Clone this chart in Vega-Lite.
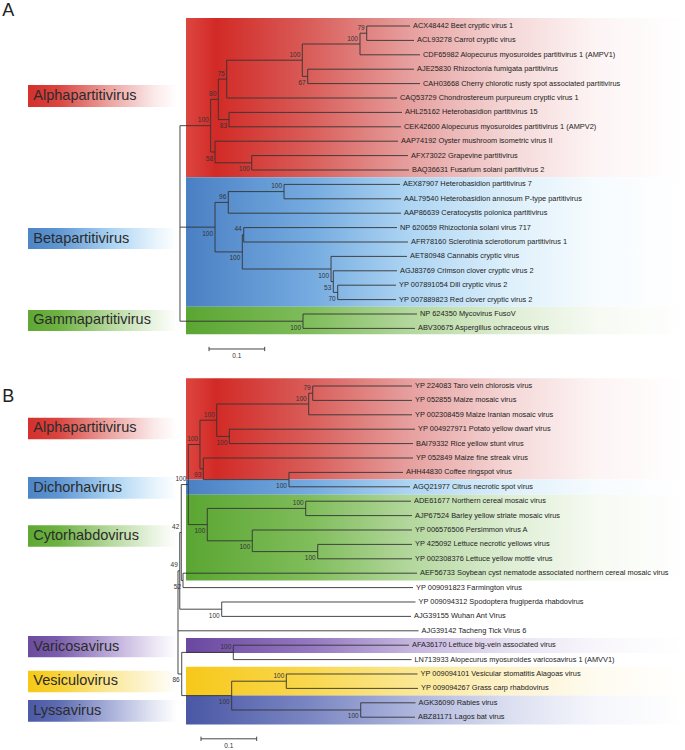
{
  "$schema": "https://vega.github.io/schema/vega-lite/v6.json",
  "width": 685,
  "height": 750,
  "autosize": "none",
  "padding": 0,
  "background": "#ffffff",
  "config": {"view": {"stroke": null}, "axis": {"disable": true}, "text": {"font": "Liberation Sans"}},
  "datasets": {
    "clades": [
      {"g": "red", "r1": -0.55, "r2": 10.5},
      {"g": "blue", "r1": 10.5, "r2": 19.5},
      {"g": "green", "r1": 19.5, "r2": 21.4},
      {"g": "red", "r1": 24.47, "r2": 31.5},
      {"g": "blue", "r1": 31.5, "r2": 32.55},
      {"g": "green", "r1": 32.55, "r2": 38.5},
      {"g": "purple", "r1": 42.5, "r2": 43.55},
      {"g": "yellow", "r1": 44.5, "r2": 46.5},
      {"g": "lyssa", "r1": 46.5, "r2": 48.5}
    ],
    "groups": [
      {"g": "red", "name": "Alphapartitivirus", "r1": 4.1, "r2": 5.63, "rc": 4.865},
      {"g": "blue", "name": "Betapartitivirus", "r1": 14.03, "r2": 15.49, "rc": 14.76},
      {"g": "green", "name": "Gammapartitivirus", "r1": 19.72, "r2": 21.18, "rc": 20.45},
      {"g": "red", "name": "Alphapartitivirus", "r1": 27.2, "r2": 28.7, "rc": 27.95},
      {"g": "blue", "name": "Dichorhavirus", "r1": 31.32, "r2": 32.83, "rc": 32.075},
      {"g": "green", "name": "Cytorhabdovirus", "r1": 34.67, "r2": 36.16, "rc": 35.415},
      {"g": "purple", "name": "Varicosavirus", "r1": 42.36, "r2": 43.84, "rc": 43.1},
      {"g": "yellow", "name": "Vesiculovirus", "r1": 44.77, "r2": 46.27, "rc": 45.52},
      {"g": "lyssa", "name": "Lyssavirus", "r1": 46.81, "r2": 48.31, "rc": 47.56}
    ],
    "tree": [
      {"d": 0.0032, "lo": 6.922, "hi": 20.5},
      {"pd": 0.0032, "d": 0.0583, "r": 6.922, "lo": 5.094, "hi": 8.75, "bs": "100", "pos": "a"},
      {"pd": 0.0032, "d": 0.0661, "r": 13.969, "lo": 12.25, "hi": 15.688, "bs": "100", "pos": "b"},
      {"pd": 0.0032, "d": 0.2241, "r": 20.5, "lo": 20, "hi": 21, "bs": "100", "pos": "b"},
      {"pd": 0.0583, "d": 0.072, "r": 5.094, "lo": 3.688, "hi": 6.5, "bs": "80", "pos": "a"},
      {"pd": 0.0583, "d": 0.0661, "r": 8.75, "lo": 8, "hi": 9.5, "bs": "58", "pos": "b"},
      {"pd": 0.072, "d": 0.0871, "r": 3.688, "lo": 2.375, "hi": 5, "bs": "75", "pos": "a"},
      {"pd": 0.072, "d": 0.0912, "r": 6.5, "lo": 6, "hi": 7, "bs": "83", "pos": "b"},
      {"pd": 0.0871, "d": 0.2228, "r": 2.375, "lo": 1.25, "hi": 3.5, "bs": "100", "pos": "a"},
      {"pd": 0.2228, "d": 0.3264, "r": 1.25, "lo": 0.5, "hi": 2, "bs": "100", "pos": "a"},
      {"pd": 0.2228, "d": 0.2325, "r": 3.5, "lo": 3, "hi": 4, "bs": "67", "pos": "b"},
      {"pd": 0.3264, "d": 0.3385, "r": 0.5, "lo": 0, "hi": 1, "bs": "79", "pos": "a"},
      {"pd": 0.0661, "d": 0.132, "r": 9.5, "lo": 9, "hi": 10, "bs": "100", "pos": "b"},
      {"pd": 0.0661, "d": 0.0899, "r": 12.25, "lo": 11.5, "hi": 13, "bs": "96", "pos": "a"},
      {"pd": 0.0661, "d": 0.1151, "r": 15.688, "lo": 14.5, "hi": 16.875, "bs": "100", "pos": "b"},
      {"pd": 0.0899, "d": 0.19, "r": 11.5, "lo": 11, "hi": 12, "bs": "100", "pos": "a"},
      {"pd": 0.1151, "d": 0.1176, "r": 14.5, "lo": 14, "hi": 15, "bs": "44", "pos": "a"},
      {"pd": 0.1151, "d": 0.2744, "r": 16.875, "lo": 16, "hi": 17.75, "bs": "100", "pos": "b"},
      {"pd": 0.2744, "d": 0.2785, "r": 17.75, "lo": 17, "hi": 18.5, "bs": "53", "pos": "b"},
      {"pd": 0.2785, "d": 0.2864, "r": 18.5, "lo": 18, "hi": 19, "bs": "70", "pos": "b"},
      {"pd": 0.3385, "d": 0.4162, "r": 0, "name": "ACX48442 Beet cryptic virus 1"},
      {"pd": 0.3385, "d": 0.4234, "r": 1, "name": "ACL93278 Carrot cryptic virus"},
      {"pd": 0.3264, "d": 0.4342, "r": 2, "name": "CDF65982 Alopecurus myosuroides partitivirus 1 (AMPV1)"},
      {"pd": 0.2325, "d": 0.4234, "r": 3, "name": "AJE25830 Rhizoctonia fumigata partitivirus"},
      {"pd": 0.2325, "d": 0.4342, "r": 4, "name": "CAH03668 Cherry chlorotic rusty spot associated partitivirus"},
      {"pd": 0.0871, "d": 0.3929, "r": 5, "name": "CAQ53729 Chondrostereum purpureum cryptic virus 1"},
      {"pd": 0.0912, "d": 0.4018, "r": 6, "name": "AHL25162 Heterobasidion partitivirus 15"},
      {"pd": 0.0912, "d": 0.4, "r": 7, "name": "CEK42600 Alopecurus myosuroides partitivirus 1 (AMPV2)"},
      {"pd": 0.0661, "d": 0.3947, "r": 8, "name": "AAP74192 Oyster mushroom isometric virus II"},
      {"pd": 0.132, "d": 0.4126, "r": 9, "name": "AFX73022 Grapevine partitivirus"},
      {"pd": 0.132, "d": 0.4144, "r": 10, "name": "BAQ36631 Fusarium solani partitivirus 2"},
      {"pd": 0.19, "d": 0.3982, "r": 11, "name": "AEX87907 Heterobasidion partitivirus 7"},
      {"pd": 0.19, "d": 0.4, "r": 12, "name": "AAL79540 Heterobasidion annosum P-type partitivirus"},
      {"pd": 0.0899, "d": 0.4, "r": 13, "name": "AAP86639 Ceratocystis polonica partitivirus"},
      {"pd": 0.1176, "d": 0.3929, "r": 14, "name": "NP 620659 Rhizoctonia solani virus 717"},
      {"pd": 0.1176, "d": 0.4126, "r": 15, "name": "AFR78160 Sclerotinia sclerotiorum partitivirus 1"},
      {"pd": 0.2744, "d": 0.4108, "r": 16, "name": "AET80948 Cannabis cryptic virus"},
      {"pd": 0.2785, "d": 0.3929, "r": 17, "name": "AGJ83769 Crimson clover cryptic virus 2"},
      {"pd": 0.2864, "d": 0.3911, "r": 18, "name": "YP 007891054 Dill cryptic virus 2"},
      {"pd": 0.2864, "d": 0.3911, "r": 19, "name": "YP 007889823 Red clover cryptic virus 2"},
      {"pd": 0.2241, "d": 0.4288, "r": 20, "name": "NP 624350 Mycovirus FusoV"},
      {"pd": 0.2241, "d": 0.4252, "r": 21, "name": "ABV30675 Aspergillus ochraceous virus"},
      {"d": -0.0004, "lo": 37.836, "hi": 45},
      {"pd": -0.0004, "d": 0.0028, "r": 37.836, "lo": 35.172, "hi": 40.5, "bs": "49", "pos": "a"},
      {"pd": -0.0004, "d": 0.0063, "r": 45, "lo": 43.5, "hi": 46.5, "bs": "86", "pos": "b"},
      {"pd": 0.0028, "d": 0.0055, "r": 35.172, "lo": 31.844, "hi": 38.5, "bs": "42", "pos": "a"},
      {"pd": 0.0028, "d": 0.0781, "r": 40.5, "lo": 40, "hi": 41, "bs": "100", "pos": "b"},
      {"pd": 0.0055, "d": 0.0181, "r": 31.844, "lo": 29.063, "hi": 34.625, "bs": "100", "pos": "a"},
      {"pd": 0.0055, "d": 0.0086, "r": 38.5, "lo": 38, "hi": 39, "bs": "52", "pos": "b"},
      {"pd": 0.0181, "d": 0.0391, "r": 29.063, "lo": 27.375, "hi": 30.75, "bs": "100", "pos": "a"},
      {"pd": 0.0181, "d": 0.0522, "r": 34.625, "lo": 33.5, "hi": 35.75, "bs": "100", "pos": "b"},
      {"pd": 0.0391, "d": 0.0691, "r": 27.375, "lo": 26.25, "hi": 28.5, "bs": "100", "pos": "a"},
      {"pd": 0.0391, "d": 0.0451, "r": 30.75, "lo": 30, "hi": 31.5, "bs": "93", "pos": "b"},
      {"pd": 0.0691, "d": 0.2343, "r": 26.25, "lo": 25.5, "hi": 27, "bs": "100", "pos": "a"},
      {"pd": 0.0691, "d": 0.0918, "r": 28.5, "lo": 28, "hi": 29, "bs": "100", "pos": "b"},
      {"pd": 0.2343, "d": 0.2415, "r": 25.5, "lo": 25, "hi": 26, "bs": "79", "pos": "a"},
      {"pd": 0.0451, "d": 0.1989, "r": 31.5, "lo": 31, "hi": 32, "bs": "100", "pos": "b"},
      {"pd": 0.0522, "d": 0.2289, "r": 33.5, "lo": 33, "hi": 34, "bs": "100", "pos": "a"},
      {"pd": 0.0522, "d": 0.133, "r": 35.75, "lo": 35, "hi": 36.5, "bs": "100", "pos": "b"},
      {"pd": 0.133, "d": 0.2505, "r": 36.5, "lo": 36, "hi": 37, "bs": "100", "pos": "b"},
      {"pd": 0.0063, "d": 0.0989, "r": 43.5, "lo": 43, "hi": 44, "bs": "100", "pos": "a"},
      {"pd": 0.0063, "d": 0.096, "r": 46.5, "lo": 45.5, "hi": 47.5, "bs": "100", "pos": "b"},
      {"pd": 0.096, "d": 0.1941, "r": 45.5, "lo": 45, "hi": 46, "bs": "100", "pos": "a"},
      {"pd": 0.096, "d": 0.3277, "r": 47.5, "lo": 47, "hi": 48, "bs": "100", "pos": "b"},
      {"pd": 0.2415, "d": 0.4198, "r": 25, "name": "YP 224083 Taro vein chlorosis virus"},
      {"pd": 0.2415, "d": 0.4198, "r": 26, "name": "YP 052855 Maize mosaic virus"},
      {"pd": 0.2343, "d": 0.4198, "r": 27, "name": "YP 002308459 Maize Iranian mosaic virus"},
      {"pd": 0.0918, "d": 0.4252, "r": 28, "name": "YP 004927971 Potato yellow dwarf virus"},
      {"pd": 0.0918, "d": 0.4216, "r": 29, "name": "BAI79332 Rice yellow stunt virus"},
      {"pd": 0.0451, "d": 0.4216, "r": 30, "name": "YP 052849 Maize fine streak virus"},
      {"pd": 0.1989, "d": 0.4036, "r": 31, "name": "AHH44830 Coffee ringspot virus"},
      {"pd": 0.1989, "d": 0.4162, "r": 32, "name": "AGQ21977 Citrus necrotic spot virus"},
      {"pd": 0.2289, "d": 0.418, "r": 33, "name": "ADE61677 Northern cereal mosaic virus"},
      {"pd": 0.2289, "d": 0.4198, "r": 34, "name": "AJP67524 Barley yellow striate mosaic virus"},
      {"pd": 0.133, "d": 0.4198, "r": 35, "name": "YP 006576506 Persimmon virus A"},
      {"pd": 0.2505, "d": 0.4198, "r": 36, "name": "YP 425092 Lettuce necrotic yellows virus"},
      {"pd": 0.2505, "d": 0.4198, "r": 37, "name": "YP 002308376 Lettuce yellow mottle virus"},
      {"pd": 0.0086, "d": 0.4288, "r": 38, "name": "AEF56733 Soybean cyst nematode associated northern cereal mosaic virus"},
      {"pd": 0.0086, "d": 0.4216, "r": 39, "name": "YP 009091823 Farmington virus"},
      {"pd": 0.0781, "d": 0.4261, "r": 40, "name": "YP 009094312 Spodoptera frugiperda rhabdovirus"},
      {"pd": 0.0781, "d": 0.418, "r": 41, "name": "AJG39155 Wuhan Ant Virus"},
      {"pd": -0.0004, "d": 0.4315, "r": 42, "name": "AJG39142 Tacheng Tick Virus 6"},
      {"pd": 0.0989, "d": 0.4144, "r": 43, "name": "AFA36170 Lettuce big-vein associated virus"},
      {"pd": 0.0989, "d": 0.4189, "r": 44, "name": "LN713933 Alopecurus myosuroides varicosavirus 1 (AMVV1)"},
      {"pd": 0.1941, "d": 0.4297, "r": 45, "name": "YP 009094101 Vesicular stomatitis Alagoas virus"},
      {"pd": 0.1941, "d": 0.4306, "r": 46, "name": "YP 009094267 Grass carp rhabdovirus"},
      {"pd": 0.3277, "d": 0.4261, "r": 47, "name": "AGK36090 Rabies virus"},
      {"pd": 0.3277, "d": 0.4252, "r": 48, "name": "ABZ81171 Lagos bat virus"}
    ],
    "scalebars": [
      {"d0": 0.0553, "d1": 0.1553, "dm": 0.1053, "r": 22.43, "rt": 22.28, "rb": 22.58, "t": "0.1"},
      {"d0": 0.0409, "d1": 0.1409, "dm": 0.0909, "r": 49.5, "rt": 49.35, "rb": 49.65, "t": "0.1"}
    ],
    "letters": [
      {"t": "A", "r": -1.04},
      {"t": "B", "r": 25.76}
    ]
  },
  "layer": [
    {
      "data": {"name": "clades"},
      "transform": [{"filter": "datum.g === 'red'"}],
      "mark": {"type": "rect", "fill": {"gradient": "linear", "x1": 0, "y1": 0, "x2": 1, "y2": 0, "stops": [{"offset": 0, "color": "#dd4640"}, {"offset": 0.06, "color": "#d22a26"}, {"offset": 0.25, "color": "#d95e5a"}, {"offset": 0.45, "color": "#e6a09f"}, {"offset": 0.65, "color": "#f5d8d8"}, {"offset": 0.82, "color": "#fdf4f4"}, {"offset": 1, "color": "#ffffff"}]}},
      "encoding": {
        "x": {"datum": 0.014, "type": "quantitative", "scale": {"domain": [-0.32, 0.91], "range": [0, 685], "nice": false, "zero": false}},
        "x2": {"datum": 0.91},
        "y": {"field": "r1", "type": "quantitative", "scale": {"domain": [-1.8056, 50.2778], "range": [0, 750], "nice": false, "zero": false}},
        "y2": {"field": "r2"}
      }
    },
    {
      "data": {"name": "clades"},
      "transform": [{"filter": "datum.g === 'blue'"}],
      "mark": {"type": "rect", "fill": {"gradient": "linear", "x1": 0, "y1": 0, "x2": 1, "y2": 0, "stops": [{"offset": 0, "color": "#4a80c3"}, {"offset": 0.25, "color": "#75abe0"}, {"offset": 0.45, "color": "#aed5f3"}, {"offset": 0.65, "color": "#def0fb"}, {"offset": 0.82, "color": "#f6fbfe"}, {"offset": 1, "color": "#ffffff"}]}},
      "encoding": {"x": {"datum": 0.014, "type": "quantitative"}, "x2": {"datum": 0.91}, "y": {"field": "r1", "type": "quantitative"}, "y2": {"field": "r2"}}
    },
    {
      "data": {"name": "clades"},
      "transform": [{"filter": "datum.g === 'green'"}],
      "mark": {"type": "rect", "fill": {"gradient": "linear", "x1": 0, "y1": 0, "x2": 1, "y2": 0, "stops": [{"offset": 0, "color": "#5aa632"}, {"offset": 0.25, "color": "#80bd5b"}, {"offset": 0.45, "color": "#b3d79d"}, {"offset": 0.65, "color": "#dfeed5"}, {"offset": 0.82, "color": "#f6faf2"}, {"offset": 1, "color": "#ffffff"}]}},
      "encoding": {"x": {"datum": 0.014, "type": "quantitative"}, "x2": {"datum": 0.91}, "y": {"field": "r1", "type": "quantitative"}, "y2": {"field": "r2"}}
    },
    {
      "data": {"name": "clades"},
      "transform": [{"filter": "datum.g === 'purple'"}],
      "mark": {"type": "rect", "fill": {"gradient": "linear", "x1": 0, "y1": 0, "x2": 1, "y2": 0, "stops": [{"offset": 0, "color": "#6a47a0"}, {"offset": 0.25, "color": "#9478c0"}, {"offset": 0.45, "color": "#c4b5de"}, {"offset": 0.65, "color": "#e9e2f3"}, {"offset": 0.82, "color": "#f8f6fb"}, {"offset": 1, "color": "#ffffff"}]}},
      "encoding": {"x": {"datum": 0.014, "type": "quantitative"}, "x2": {"datum": 0.91}, "y": {"field": "r1", "type": "quantitative"}, "y2": {"field": "r2"}}
    },
    {
      "data": {"name": "clades"},
      "transform": [{"filter": "datum.g === 'yellow'"}],
      "mark": {"type": "rect", "fill": {"gradient": "linear", "x1": 0, "y1": 0, "x2": 1, "y2": 0, "stops": [{"offset": 0, "color": "#f7c81a"}, {"offset": 0.25, "color": "#f9d84f"}, {"offset": 0.45, "color": "#fbe792"}, {"offset": 0.65, "color": "#fdf3cf"}, {"offset": 0.82, "color": "#fefbef"}, {"offset": 1, "color": "#ffffff"}]}},
      "encoding": {"x": {"datum": 0.014, "type": "quantitative"}, "x2": {"datum": 0.91}, "y": {"field": "r1", "type": "quantitative"}, "y2": {"field": "r2"}}
    },
    {
      "data": {"name": "clades"},
      "transform": [{"filter": "datum.g === 'lyssa'"}],
      "mark": {"type": "rect", "fill": {"gradient": "linear", "x1": 0, "y1": 0, "x2": 1, "y2": 0, "stops": [{"offset": 0, "color": "#4957a5"}, {"offset": 0.25, "color": "#7b87c3"}, {"offset": 0.45, "color": "#adb5dc"}, {"offset": 0.65, "color": "#dcdff0"}, {"offset": 0.82, "color": "#f5f6fb"}, {"offset": 1, "color": "#ffffff"}]}},
      "encoding": {"x": {"datum": 0.014, "type": "quantitative"}, "x2": {"datum": 0.91}, "y": {"field": "r1", "type": "quantitative"}, "y2": {"field": "r2"}}
    },
    {
      "data": {"name": "groups"},
      "transform": [{"filter": "datum.g === 'red'"}],
      "mark": {"type": "rect", "fill": {"gradient": "linear", "x1": 0, "y1": 0, "x2": 1, "y2": 0, "stops": [{"offset": 0, "color": "#d3302c"}, {"offset": 0.2, "color": "#d9443f"}, {"offset": 0.55, "color": "#eba5a2"}, {"offset": 0.85, "color": "#fbeaea"}, {"offset": 1, "color": "#ffffff"}]}},
      "encoding": {"x": {"datum": -0.2697, "type": "quantitative"}, "x2": {"datum": -0.0022}, "y": {"field": "r1", "type": "quantitative"}, "y2": {"field": "r2"}}
    },
    {
      "data": {"name": "groups"},
      "transform": [{"filter": "datum.g === 'blue'"}],
      "mark": {"type": "rect", "fill": {"gradient": "linear", "x1": 0, "y1": 0, "x2": 1, "y2": 0, "stops": [{"offset": 0, "color": "#4c84c6"}, {"offset": 0.2, "color": "#5e95d2"}, {"offset": 0.55, "color": "#a9d2f2"}, {"offset": 0.85, "color": "#e6f3fc"}, {"offset": 1, "color": "#ffffff"}]}},
      "encoding": {"x": {"datum": -0.2697, "type": "quantitative"}, "x2": {"datum": -0.0022}, "y": {"field": "r1", "type": "quantitative"}, "y2": {"field": "r2"}}
    },
    {
      "data": {"name": "groups"},
      "transform": [{"filter": "datum.g === 'green'"}],
      "mark": {"type": "rect", "fill": {"gradient": "linear", "x1": 0, "y1": 0, "x2": 1, "y2": 0, "stops": [{"offset": 0, "color": "#5ea834"}, {"offset": 0.2, "color": "#6db241"}, {"offset": 0.55, "color": "#b5d89c"}, {"offset": 0.85, "color": "#eaf4e3"}, {"offset": 1, "color": "#ffffff"}]}},
      "encoding": {"x": {"datum": -0.2697, "type": "quantitative"}, "x2": {"datum": -0.0022}, "y": {"field": "r1", "type": "quantitative"}, "y2": {"field": "r2"}}
    },
    {
      "data": {"name": "groups"},
      "transform": [{"filter": "datum.g === 'purple'"}],
      "mark": {"type": "rect", "fill": {"gradient": "linear", "x1": 0, "y1": 0, "x2": 1, "y2": 0, "stops": [{"offset": 0, "color": "#6a4b9e"}, {"offset": 0.2, "color": "#7a5dab"}, {"offset": 0.55, "color": "#bbaad8"}, {"offset": 0.85, "color": "#ece6f4"}, {"offset": 1, "color": "#ffffff"}]}},
      "encoding": {"x": {"datum": -0.2697, "type": "quantitative"}, "x2": {"datum": -0.0022}, "y": {"field": "r1", "type": "quantitative"}, "y2": {"field": "r2"}}
    },
    {
      "data": {"name": "groups"},
      "transform": [{"filter": "datum.g === 'yellow'"}],
      "mark": {"type": "rect", "fill": {"gradient": "linear", "x1": 0, "y1": 0, "x2": 1, "y2": 0, "stops": [{"offset": 0, "color": "#f6c915"}, {"offset": 0.2, "color": "#f8d235"}, {"offset": 0.55, "color": "#fbe89a"}, {"offset": 0.85, "color": "#fdf7dd"}, {"offset": 1, "color": "#ffffff"}]}},
      "encoding": {"x": {"datum": -0.2697, "type": "quantitative"}, "x2": {"datum": -0.0022}, "y": {"field": "r1", "type": "quantitative"}, "y2": {"field": "r2"}}
    },
    {
      "data": {"name": "groups"},
      "transform": [{"filter": "datum.g === 'lyssa'"}],
      "mark": {"type": "rect", "fill": {"gradient": "linear", "x1": 0, "y1": 0, "x2": 1, "y2": 0, "stops": [{"offset": 0, "color": "#4b59a6"}, {"offset": 0.2, "color": "#5d6bb1"}, {"offset": 0.55, "color": "#a8b0d9"}, {"offset": 0.85, "color": "#e5e8f4"}, {"offset": 1, "color": "#ffffff"}]}},
      "encoding": {"x": {"datum": -0.2697, "type": "quantitative"}, "x2": {"datum": -0.0022}, "y": {"field": "r1", "type": "quantitative"}, "y2": {"field": "r2"}}
    },
    {
      "data": {"name": "groups"},
      "mark": {"type": "text", "align": "left", "baseline": "middle", "fontSize": 14.5, "fill": "#2b2b2b", "font": "Liberation Sans"},
      "encoding": {"x": {"datum": -0.2602, "type": "quantitative"}, "y": {"field": "rc", "type": "quantitative"}, "text": {"field": "name"}}
    },
    {
      "data": {"name": "tree"},
      "transform": [{"filter": "isValid(datum.pd)"}],
      "mark": {"type": "rule", "color": "#333333", "strokeWidth": 0.9},
      "encoding": {"x": {"field": "pd", "type": "quantitative"}, "x2": {"field": "d"}, "y": {"field": "r", "type": "quantitative"}}
    },
    {
      "data": {"name": "tree"},
      "transform": [{"filter": "isValid(datum.lo)"}],
      "mark": {"type": "rule", "color": "#333333", "strokeWidth": 0.9},
      "encoding": {"x": {"field": "d", "type": "quantitative"}, "y": {"field": "lo", "type": "quantitative"}, "y2": {"field": "hi"}}
    },
    {
      "data": {"name": "tree"},
      "transform": [{"filter": "isValid(datum.name)"}],
      "mark": {"type": "text", "align": "left", "baseline": "middle", "dx": 3, "fontSize": 7.4, "fill": "#222222", "font": "Liberation Sans"},
      "encoding": {"x": {"field": "d", "type": "quantitative"}, "y": {"field": "r", "type": "quantitative"}, "text": {"field": "name"}}
    },
    {
      "data": {"name": "tree"},
      "transform": [{"filter": "datum.pos === 'a'"}],
      "mark": {"type": "text", "align": "right", "baseline": "middle", "dx": -2, "dy": -5.5, "fontSize": 6.5, "fill": "#333333", "font": "Liberation Sans"},
      "encoding": {"x": {"field": "d", "type": "quantitative"}, "y": {"field": "r", "type": "quantitative"}, "text": {"field": "bs"}}
    },
    {
      "data": {"name": "tree"},
      "transform": [{"filter": "datum.pos === 'b'"}],
      "mark": {"type": "text", "align": "right", "baseline": "middle", "dx": -2, "dy": 6.5, "fontSize": 6.5, "fill": "#333333", "font": "Liberation Sans"},
      "encoding": {"x": {"field": "d", "type": "quantitative"}, "y": {"field": "r", "type": "quantitative"}, "text": {"field": "bs"}}
    },
    {
      "data": {"name": "scalebars"},
      "mark": {"type": "rule", "color": "#333333", "strokeWidth": 0.9},
      "encoding": {"x": {"field": "d0", "type": "quantitative"}, "x2": {"field": "d1"}, "y": {"field": "r", "type": "quantitative"}}
    },
    {
      "data": {"name": "scalebars"},
      "mark": {"type": "rule", "color": "#333333", "strokeWidth": 0.9},
      "encoding": {"x": {"field": "d0", "type": "quantitative"}, "y": {"field": "rt", "type": "quantitative"}, "y2": {"field": "rb"}}
    },
    {
      "data": {"name": "scalebars"},
      "mark": {"type": "rule", "color": "#333333", "strokeWidth": 0.9},
      "encoding": {"x": {"field": "d1", "type": "quantitative"}, "y": {"field": "rt", "type": "quantitative"}, "y2": {"field": "rb"}}
    },
    {
      "data": {"name": "scalebars"},
      "mark": {"type": "text", "align": "center", "baseline": "middle", "dy": 7, "fontSize": 6.5, "fill": "#333333", "font": "Liberation Sans"},
      "encoding": {"x": {"field": "dm", "type": "quantitative"}, "y": {"field": "r", "type": "quantitative"}, "text": {"field": "t"}}
    },
    {
      "data": {"name": "letters"},
      "mark": {"type": "text", "align": "center", "baseline": "middle", "fontSize": 18, "fill": "#222222", "font": "Liberation Sans"},
      "encoding": {"x": {"datum": -0.305, "type": "quantitative"}, "y": {"field": "r", "type": "quantitative"}, "text": {"field": "t"}}
    }
  ]
}
